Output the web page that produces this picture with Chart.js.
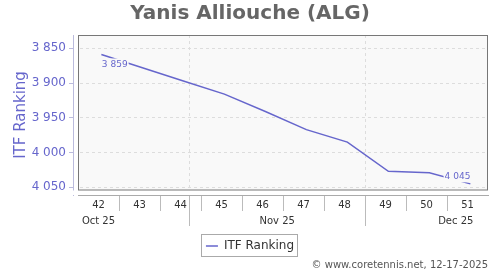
<!DOCTYPE html>
<html>
<head>
<meta charset="utf-8">
<script src="https://cdn.jsdelivr.net/npm/chart.js@4"></script>
<style>
  body { margin: 0; background: #fff; }
  canvas { display: block; }
</style>
</head>
<body>
<canvas id="chart" width="500" height="270"></canvas>
<script>
const weeks = [42, 43, 44, 45, 46, 47, 48, 49, 50, 51];
const ranking = [3859, 3878, 3897, 3916, 3941, 3967, 3985, 4027, 4029, 4045];
const yTicks = [3850, 3900, 3950, 4000, 4050];
const months = ['Oct 25', 'Nov 25', 'Dec 25'];
const monthStarts = ['2025-10-01', '2025-11-01', '2025-12-01', '2026-01-01'];
const firstMonday = '2025-10-13'; // monday of week 42

const purple = '#6666cc';
const plotBg = '#f9f9f9';

// axis range in week units (left edge sits 5px outside the plot frame)
const xMin = 41.378, xMax = 51.5;

// where a date falls on the week axis
const weekPos = d => weeks[0] - 0.5 + (Date.parse(d) - Date.parse(firstMonday)) / (7 * 864e5);

const monthEdges = monthStarts.map(weekPos);
const monthMids = months.map((m, i) => (monthEdges[i] + monthEdges[i + 1]) / 2);
const boundaries = monthEdges.filter(v => v > xMin && v < xMax);

const separators = weeks.slice(0, -1).map(w => w + 0.5);
const weekTicks = [...new Set([...weeks, ...separators, ...boundaries])].sort((a, b) => a - b);
const monthTicks = [...monthMids, ...boundaries].sort((a, b) => a - b);

const fmt = v => String(v).replace(/\B(?=(\d{3})+(?!\d))/g, ' ');

Chart.defaults.font.family = "'DejaVu Sans', sans-serif";

// plot background, gaps between frame and axes, and the frame
const plotFrame = {
    id: 'plotFrame',
    beforeDraw(chart) {
        const { ctx, chartArea: a } = chart;
        ctx.save();
        ctx.fillStyle = plotBg;
        ctx.fillRect(a.left + 5, a.top, a.right - a.left - 5, a.bottom - a.top - 5);
        ctx.restore();
    },
    beforeDatasetsDraw(chart) {
        const { ctx, chartArea: a } = chart;
        ctx.save();
        ctx.fillStyle = '#fff';
        ctx.fillRect(a.left + 1, a.top, 4, a.bottom - a.top + 1);
        ctx.fillRect(a.left - 1, a.bottom - 4.5, a.right - a.left + 1, 4.5);
        ctx.strokeStyle = '#777';
        ctx.lineWidth = 1;
        ctx.strokeRect(a.left + 5.5, a.top + 0.5, a.right - a.left - 6, a.bottom - a.top - 5.5);
        ctx.restore();
    }
};

// value labels on the first and last point
const endLabels = {
    id: 'endLabels',
    afterDatasetsDraw(chart) {
        const { ctx } = chart;
        const pts = chart.getDatasetMeta(0).data;
        const last = pts.length - 1;
        ctx.save();
        ctx.font = "9px 'DejaVu Sans'";
        ctx.textBaseline = 'middle';
        ctx.textAlign = 'left';
        [[0, 'left', 10], [last, 'right', -7.5]].forEach(([i, align, dy]) => {
            const text = fmt(ranking[i]);
            const w = ctx.measureText(text).width;
            const x = align === 'left' ? pts[i].x + 0.5 : pts[i].x - w;
            const y = pts[i].y + dy;
            ctx.fillStyle = plotBg;
            ctx.fillRect(x - 1, y - 6, w + 2, 12);
            ctx.fillStyle = purple;
            ctx.fillText(text, x, y);
        });
        ctx.restore();
    }
};

// border round the legend
const legendBox = {
    id: 'legendBox',
    afterDraw(chart) {
        const hb = chart.legend.legendHitBoxes[0];
        if (!hb) return;
        const { ctx } = chart;
        ctx.save();
        ctx.strokeStyle = '#aaa';
        ctx.lineWidth = 1;
        ctx.strokeRect(Math.round(hb.left) - 4.5, Math.round(hb.top) - 5.5, Math.round(hb.width) + 8, hb.height + 10);
        ctx.restore();
    }
};

new Chart(document.getElementById('chart'), {
    type: 'line',
    data: {
        datasets: [{
            label: 'ITF Ranking',
            data: weeks.map((w, i) => ({ x: w, y: ranking[i] })),
            xAxisID: 'xd',
            yAxisID: 'y',
            borderColor: purple,
            backgroundColor: purple,
            borderWidth: 1.5,
            pointRadius: 0,
            tension: 0
        }]
    },
    options: {
        responsive: false,
        animation: false,
        devicePixelRatio: 1,
        layout: { padding: 0 },
        scales: {
            x: {
                type: 'linear', position: 'bottom', min: xMin, max: xMax,
                afterBuildTicks: s => { s.ticks = weekTicks.map(v => ({ value: v })); },
                afterFit: s => { s.height = 16; },
                ticks: {
                    autoSkip: false, maxRotation: 0, padding: -12, color: '#333', font: { size: 10 },
                    callback: v => weeks.includes(v) ? String(v) : ''
                },
                grid: {
                    drawOnChartArea: false, tickLength: 16,
                    tickColor: c => weeks.includes(c.tick.value) ? 'transparent' : '#bbb'
                },
                border: { display: true, color: '#aaa' }
            },
            m: {
                type: 'linear', position: 'bottom', min: xMin, max: xMax,
                afterBuildTicks: s => { s.ticks = monthTicks.map(v => ({ value: v })); },
                afterFit: s => { s.height = 21; },
                ticks: {
                    autoSkip: false, maxRotation: 0, padding: -10.5, color: '#333', font: { size: 10 },
                    callback: v => { const i = monthMids.indexOf(v); return i >= 0 ? months[i] : ''; }
                },
                grid: {
                    drawOnChartArea: true, tickLength: 15,
                    color: c => boundaries.includes(c.tick.value) ? '#ddd' : 'transparent',
                    tickColor: c => boundaries.includes(c.tick.value) ? '#bbb' : 'transparent'
                },
                border: { display: false, dash: [3, 3] }
            },
            xd: { type: 'linear', display: false, min: xMin - 0.07, max: xMax - 0.07 },
            y: {
                type: 'linear', position: 'left', reverse: true, min: 3831, max: 4061,
                afterBuildTicks: s => { s.ticks = yTicks.map(v => ({ value: v })); },
                afterFit: s => { s.width = 73; },
                ticks: { padding: 3, color: purple, font: { size: 12 }, callback: v => fmt(v) },
                grid: { color: '#ddd', tickLength: 4, tickColor: '#bbbbdd' },
                border: { display: true, color: '#bbbbdd', dash: [3, 3] },
                title: {
                    display: true, text: 'ITF Ranking', color: purple,
                    font: { size: 15 }, padding: { top: 12, bottom: 0 }
                }
            },
            yRight: {
                type: 'linear', axis: 'y', position: 'right',
                ticks: { display: false }, grid: { display: false }, border: { display: false },
                afterFit: s => { s.width = 12; }
            }
        },
        plugins: {
            title: {
                display: true, text: 'Yanis Alliouche (ALG)', color: '#666',
                font: { size: 20, weight: 'bold' }, padding: { top: 2, bottom: 9 }
            },
            subtitle: {
                display: true, text: '© www.coretennis.net, 12-17-2025',
                position: 'bottom', align: 'end', fullSize: false, color: '#555',
                font: { size: 10, lineHeight: 0.6 }, padding: { top: 0, bottom: 2 }
            },
            legend: {
                position: 'bottom',
                labels: {
                    usePointStyle: true, pointStyle: 'line', pointStyleWidth: 12,
                    color: '#333', font: { size: 12 }, padding: 8
                }
            },
            tooltip: { enabled: false }
        }
    },
    plugins: [plotFrame, endLabels, legendBox]
});
</script>
</body>
</html>
